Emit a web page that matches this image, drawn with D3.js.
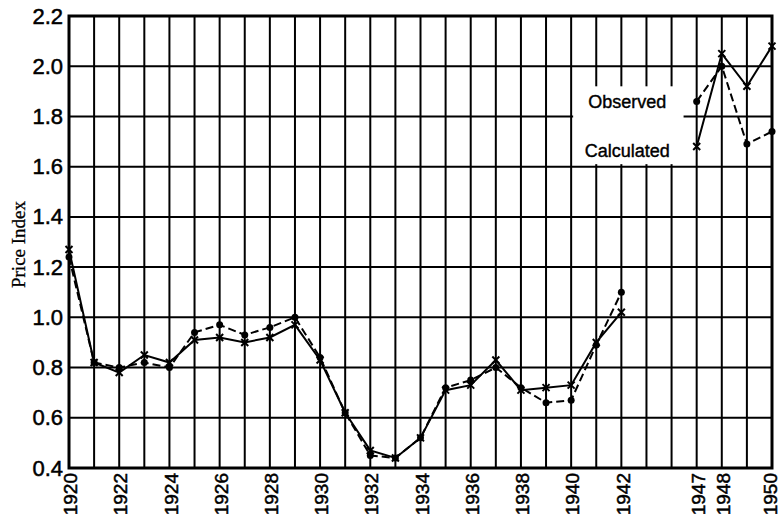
<!DOCTYPE html>
<html>
<head>
<meta charset="utf-8">
<script src="https://cdn.jsdelivr.net/npm/d3@7"></script>
<style>
  body { margin: 0; background: #fff; }
  svg { display: block; }
</style>
</head>
<body>
<div id="chart"></div>
<script>
// years on the x axis; g1/g2 are the two compressed slots between 1942 and 1947
const slots = ['1920', '1921', '1922', '1923', '1924', '1925', '1926', '1927', '1928', '1929',
    '1930', '1931', '1932', '1933', '1934', '1935', '1936', '1937', '1938', '1939',
    '1940', '1941', '1942', 'g1', 'g2', '1947', '1948', '1949', '1950'];
const xTickLabels = ['1920', '1922', '1924', '1926', '1928', '1930', '1932', '1934', '1936',
    '1938', '1940', '1942', '1947', '1948', '1950'];
const yTicks = [0.4, 0.6, 0.8, 1.0, 1.2, 1.4, 1.6, 1.8, 2.0, 2.2];

const observed = [1.24, 0.82, 0.80, 0.82, 0.80, 0.94, 0.97, 0.93, 0.96, 1.00,
    0.84, 0.62, 0.45, 0.44, 0.52, 0.72, 0.75, 0.80, 0.72, 0.66,
    0.67, 0.89, 1.10, null, null, 1.86, 2.00, 1.69, 1.74];
const calculated = [1.27, 0.82, 0.78, 0.85, 0.82, 0.91, 0.92, 0.90, 0.92, 0.97,
    0.83, 0.62, 0.47, 0.44, 0.52, 0.71, 0.73, 0.83, 0.71, 0.72,
    0.73, 0.90, 1.02, null, null, 1.68, 2.05, 1.92, 2.08];

const width = 781, height = 515;
const margin = {top: 16, right: 9, bottom: 47, left: 69};

const svg = d3.select('#chart').append('svg')
    .attr('width', width)
    .attr('height', height);

const x = d3.scalePoint()
    .domain(slots)
    .range([margin.left, width - margin.right]);

const y = d3.scaleLinear()
    .domain([0.4, 2.2])
    .range([height - margin.bottom, margin.top]);

// grid
const grid = svg.append('g').attr('stroke', '#000').attr('stroke-width', 2);
grid.selectAll('line.v')
    .data(slots)
    .join('line')
    .attr('class', 'v')
    .attr('x1', d => x(d)).attr('x2', d => x(d))
    .attr('y1', y(2.2)).attr('y2', y(0.4));
grid.selectAll('line.h')
    .data(yTicks)
    .join('line')
    .attr('class', 'h')
    .attr('x1', x.range()[0]).attr('x2', x.range()[1])
    .attr('y1', d => y(d)).attr('y2', d => y(d));

// frame
svg.append('rect')
    .attr('x', x.range()[0]).attr('y', y(2.2))
    .attr('width', x.range()[1] - x.range()[0])
    .attr('height', y(0.4) - y(2.2))
    .attr('fill', 'none')
    .attr('stroke', '#000')
    .attr('stroke-width', 3);

// y axis labels
const yAxis = svg.append('g')
    .attr('transform', `translate(${margin.left},0)`)
    .call(d3.axisLeft(y).tickValues(yTicks).tickFormat(d3.format('.1f')).tickSize(0).tickPadding(6));
yAxis.select('.domain').remove();
yAxis.selectAll('text')
    .attr('font-family', '"Liberation Sans Narrow", "Arial Narrow", "Liberation Sans", sans-serif')
    .attr('font-size', 22)
    .attr('fill', '#000')
    .attr('stroke', '#000')
    .attr('stroke-width', 0.5);

// x axis labels (rotated)
const xAxis = svg.append('g')
    .attr('transform', `translate(0,${height - margin.bottom})`)
    .call(d3.axisBottom(x).tickValues(xTickLabels).tickSize(0).tickPadding(0));
xAxis.select('.domain').remove();
xAxis.selectAll('text')
    .attr('font-family', '"Liberation Sans Narrow", "Arial Narrow", "Liberation Sans", sans-serif')
    .attr('font-size', 19)
    .attr('fill', '#000')
    .attr('stroke', '#000')
    .attr('stroke-width', 0.5)
    .attr('text-anchor', 'end')
    .attr('transform', 'rotate(-90)')
    .attr('x', -5)
    .attr('y', d => d === '1950' ? -2 : 1)
    .attr('dy', '0.35em');

// y axis title
svg.append('text')
    .attr('transform', `translate(25,${y(1.29)}) rotate(-90)`)
    .attr('text-anchor', 'middle')
    .attr('font-family', '"Liberation Serif", "Times New Roman", serif')
    .attr('font-size', 19)
    .attr('fill', '#000')
    .attr('stroke', '#000')
    .attr('stroke-width', 0.3)
    .text('Price Index');

// series lines
const line = d3.line()
    .defined(d => d.v != null)
    .x(d => x(d.slot))
    .y(d => y(d.v));

const obsPts = slots.map((s, i) => ({slot: s, v: observed[i]}));
const calcPts = slots.map((s, i) => ({slot: s, v: calculated[i]}));

svg.append('path')
    .datum(obsPts)
    .attr('d', line)
    .attr('fill', 'none')
    .attr('stroke', '#000')
    .attr('stroke-width', 2)
    .attr('stroke-dasharray', '8,4');

svg.append('path')
    .datum(calcPts)
    .attr('d', line)
    .attr('fill', 'none')
    .attr('stroke', '#000')
    .attr('stroke-width', 2);

svg.append('g')
    .selectAll('circle')
    .data(obsPts.filter(d => d.v != null))
    .join('circle')
    .attr('cx', d => x(d.slot))
    .attr('cy', d => y(d.v))
    .attr('r', 3.5)
    .attr('fill', '#000');

const xs = 3.5;
svg.append('g')
    .selectAll('path')
    .data(calcPts.filter(d => d.v != null))
    .join('path')
    .attr('d', d => {
        const cx = x(d.slot), cy = y(d.v);
        return `M${cx - xs},${cy - xs}L${cx + xs},${cy + xs}M${cx - xs},${cy + xs}L${cx + xs},${cy - xs}`;
    })
    .attr('stroke', '#000')
    .attr('stroke-width', 2);

// labels for the two series, with white patch behind
const lx = x('1941') + 31;
svg.append('rect')
    .attr('x', x('1940') + 2)
    .attr('y', y(1.92))
    .attr('width', x('g2') - x('1940') + 10)
    .attr('height', y(1.61) - y(1.92))
    .attr('fill', '#fff');

svg.selectAll('text.lbl')
    .data([{t: 'Observed', v: 1.834}, {t: 'Calculated', v: 1.638}])
    .join('text')
    .attr('class', 'lbl')
    .attr('x', lx)
    .attr('y', d => y(d.v))
    .attr('text-anchor', 'middle')
    .attr('font-family', '"Liberation Sans", Arial, sans-serif')
    .attr('font-size', 18)
    .attr('stroke', '#000')
    .attr('stroke-width', 0.4)
    .text(d => d.t);
</script>
</body>
</html>
